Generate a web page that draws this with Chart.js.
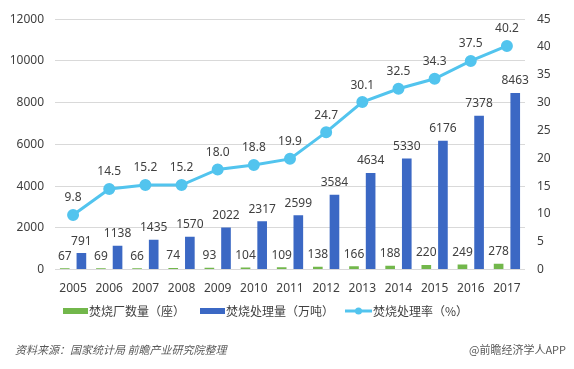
<!DOCTYPE html>
<html>
<head>
<meta charset="utf-8">
<script src="https://cdn.jsdelivr.net/npm/chart.js@4/dist/chart.umd.min.js"></script>
<style>
  html, body { margin: 0; padding: 0; background: #fff; }
  #wrap { width: 574px; height: 369px; }
</style>
</head>
<body>
<div id="wrap"><canvas id="chart" width="574" height="369"></canvas></div>
<script>
// 数据
const years = ['2005', '2006', '2007', '2008', '2009', '2010', '2011', '2012', '2013', '2014', '2015', '2016', '2017'];
const plants = [67, 69, 66, 74, 93, 104, 109, 138, 166, 188, 220, 249, 278];
const capacity = [791, 1138, 1435, 1570, 2022, 2317, 2599, 3584, 4634, 5330, 6176, 7378, 8463];
const rate = [9.8, 14.5, 15.2, 15.2, 18.0, 18.8, 19.9, 24.7, 30.1, 32.5, 34.3, 37.5, 40.2];
const leftTicks = [0, 2000, 4000, 6000, 8000, 10000, 12000];
const rightTicks = [0, 5, 10, 15, 20, 25, 30, 35, 40, 45];

const fontNum = 'Noto Sans';
const fontCJK = '"Noto Sans CJK SC", "Noto Sans", sans-serif';
const green = '#72b74b';
const blue = '#3b68c4';
const cyan = '#52c4ee';

// 数据标签
const labelPlugin = {
    id: 'valueLabels',
    afterDatasetsDraw(chart) {
        const ctx = chart.ctx;
        ctx.save();
        ctx.font = '12px ' + fontNum;
        ctx.fillStyle = '#404040';
        ctx.textAlign = 'center';
        ctx.textBaseline = 'middle';
        chart.data.datasets.forEach((ds, i) => {
            const meta = chart.getDatasetMeta(i);
            meta.data.forEach((el, j) => {
                const v = ds.data[j];
                let txt = ds.type === 'line' ? v.toFixed(1) : String(v);
                let dy = ds.type === 'line' ? -17 : -12;
                ctx.fillText(txt, el.x, el.y + dy);
            });
        });
        ctx.restore();
    }
};

// 图例 + 资料来源
const footerPlugin = {
    id: 'footer',
    afterDraw(chart) {
        const ctx = chart.ctx;
        ctx.save();
        const ly = 311;
        ctx.font = '12px ' + fontCJK;
        ctx.fillStyle = '#404040';
        ctx.textBaseline = 'middle';
        ctx.textAlign = 'left';
        // 焚烧厂数量
        ctx.fillStyle = green;
        ctx.fillRect(63, ly - 3, 25, 6);
        ctx.fillStyle = '#404040';
        ctx.fillText(chart.data.datasets[1].label, 89, ly);
        // 焚烧处理量
        ctx.fillStyle = blue;
        ctx.fillRect(200, ly - 3, 25, 6);
        ctx.fillStyle = '#404040';
        ctx.fillText(chart.data.datasets[2].label, 226, ly);
        // 焚烧处理率
        ctx.strokeStyle = cyan;
        ctx.lineWidth = 3;
        ctx.beginPath();
        ctx.moveTo(345, ly);
        ctx.lineTo(372, ly);
        ctx.stroke();
        ctx.fillStyle = cyan;
        ctx.beginPath();
        ctx.arc(358.5, ly, 3.5, 0, Math.PI * 2);
        ctx.fill();
        ctx.fillStyle = '#404040';
        ctx.fillText(chart.data.datasets[0].label, 373, ly);

        ctx.fillStyle = '#595959';
        ctx.font = 'italic 11px ' + fontCJK;
        ctx.fillText('资料来源：国家统计局 前瞻产业研究院整理', 15, 350);
        ctx.font = '11px ' + fontCJK;
        ctx.textAlign = 'right';
        ctx.fillText('@前瞻经济学人APP', 566, 350);
        ctx.restore();
    }
};

new Chart(document.getElementById('chart'), {
    data: {
        labels: years,
        datasets: [
            {
                type: 'line',
                label: '焚烧处理率（%）',
                data: rate,
                yAxisID: 'y1',
                borderColor: cyan,
                backgroundColor: cyan,
                borderWidth: 3,
                pointRadius: 4.5,
                pointHoverRadius: 4.5,
                tension: 0,
                order: 0
            },
            {
                type: 'bar',
                label: '焚烧厂数量（座）',
                data: plants,
                yAxisID: 'y',
                backgroundColor: green,
                barPercentage: 0.58,
                categoryPercentage: 0.92,
                order: 1
            },
            {
                type: 'bar',
                label: '焚烧处理量（万吨）',
                data: capacity,
                yAxisID: 'y',
                backgroundColor: blue,
                barPercentage: 0.58,
                categoryPercentage: 0.92,
                order: 2
            }
        ]
    },
    options: {
        responsive: false,
        animation: false,
        layout: { padding: { top: 14, bottom: 69, left: 0, right: 0 } },
        plugins: {
            tooltip: { enabled: false },
            legend: { display: false }
        },
        scales: {
            x: {
                offset: true,
                grid: { display: false },
                border: { display: false },
                ticks: { color: '#404040', font: { size: 12, family: fontNum }, padding: 4, maxRotation: 0 }
            },
            y: {
                position: 'left',
                min: 0,
                max: 12000,
                afterFit(axis) { axis.width = 55; },
                afterBuildTicks(axis) { axis.ticks = leftTicks.map(v => ({ value: v })); },
                grid: { color: '#d9d9d9', drawTicks: false },
                border: { display: false },
                ticks: { color: '#404040', font: { size: 12, family: fontNum }, padding: 11, callback: v => String(v) }
            },
            y1: {
                position: 'right',
                min: 0,
                max: 45,
                afterFit(axis) { axis.width = 49; },
                afterBuildTicks(axis) { axis.ticks = rightTicks.map(v => ({ value: v })); },
                grid: { display: false, drawTicks: false },
                border: { display: false },
                ticks: { color: '#404040', font: { size: 12, family: fontNum }, padding: 12, callback: v => String(v) }
            }
        }
    },
    plugins: [labelPlugin, footerPlugin]
});
</script>
</body>
</html>
